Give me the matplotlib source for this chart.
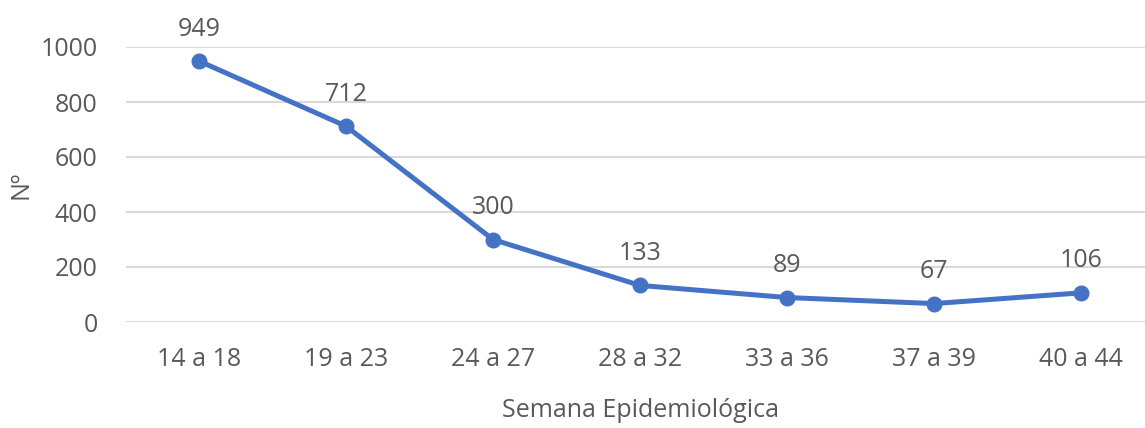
import matplotlib
matplotlib.use("Agg")
import matplotlib.pyplot as plt

plt.rcParams['font.family'] = ['Open Sans', 'DejaVu Sans']

semanas = ["14 a 18", "19 a 23", "24 a 27", "28 a 32", "33 a 36", "37 a 39", "40 a 44"]
casos = [949, 712, 300, 133, 89, 67, 106]
yticks = [0, 200, 400, 600, 800, 1000]

TXT = "#595959"
BLUE = "#4472C4"

fig = plt.figure(figsize=(11.45, 4.28), dpi=100)
ax = fig.add_axes([125.5 / 1145, 106 / 428, 1029 / 1145, 275 / 428])

x = list(range(len(semanas)))
ax.plot(x, casos, color=BLUE, lw=3.6, marker="o", ms=10.5, clip_on=False, zorder=3,
        solid_capstyle="round")

for xi, v in zip(x, casos):
    ax.annotate(str(v), (xi, v), xytext=(0, 23), textcoords="offset points",
                ha="center", va="center", fontsize=18, color=TXT)

ax.set_xlim(-0.5, len(semanas) - 0.5)
ax.set_ylim(0, 1000)
ax.set_yticks(yticks)
ax.set_xticks(x)
ax.set_xticklabels(semanas)
ax.yaxis.grid(True, color="#D9D9D9", lw=1.5)
ax.set_axisbelow(True)
for s in ax.spines.values():
    s.set_visible(False)
ax.tick_params(length=0, labelsize=18, colors=TXT)
ax.tick_params(axis="x", pad=18)
ax.tick_params(axis="y", pad=20)

ax.set_ylabel("Nº", fontsize=18, color=TXT, labelpad=5)
ax.set_xlabel("Semana Epidemiológica", fontsize=18, color=TXT, labelpad=19)

fig.savefig("out.png", dpi=100)
plt.close(fig)
